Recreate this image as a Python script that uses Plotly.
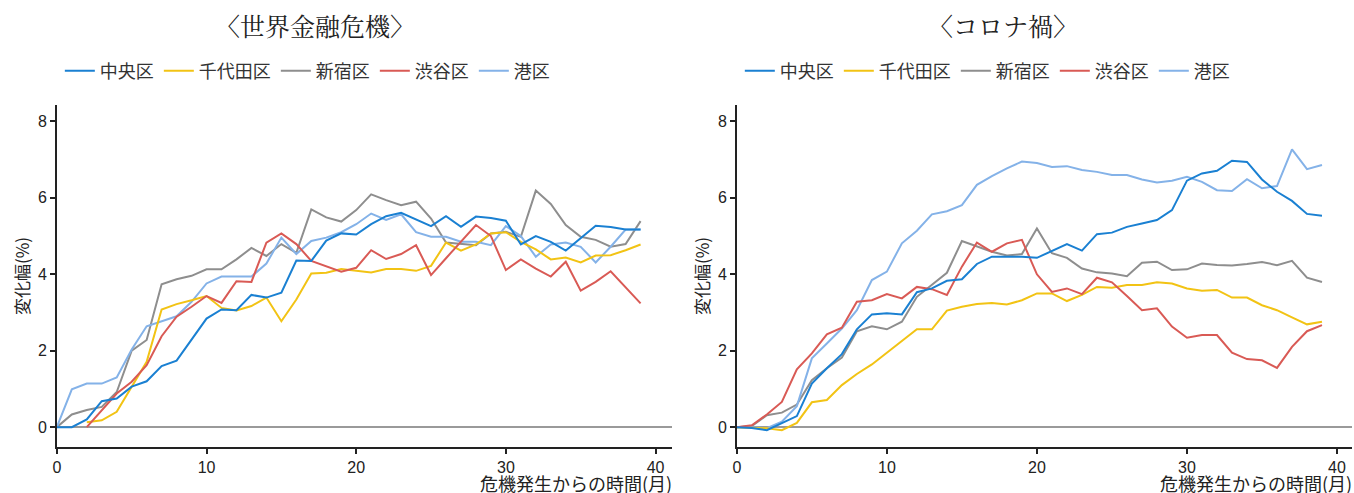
import plotly.graph_objects as go

months = list(range(40))
names = ["中央区", "千代田区", "新宿区", "渋谷区", "港区"]
colors = ["#1a80d2", "#f2c314", "#8e8e8e", "#d95a55", "#84b2e8"]

# 世界金融危機
gfc_chuo = [0, 0, 0.2, 0.68, 0.75, 1.06, 1.2, 1.6, 1.74, 2.28,
            2.84, 3.08, 3.06, 3.46, 3.39, 3.52, 4.36, 4.35, 4.88, 5.07,
            5.04, 5.31, 5.52, 5.61, 5.44, 5.26, 5.52, 5.24, 5.51, 5.47,
            5.4, 4.78, 5.0, 4.85, 4.62, 4.94, 5.27, 5.24, 5.17, 5.17]
gfc_chiyoda = [None, None, 0.13, 0.18, 0.40, 1.06, 1.71, 3.08, 3.22, 3.32,
               3.43, 3.12, 3.05, 3.17, 3.39, 2.77, 3.34, 4.02, 4.04, 4.14,
               4.09, 4.05, 4.14, 4.14, 4.09, 4.22, 4.83, 4.62, 4.78, 5.07,
               5.1, 4.85, 4.65, 4.39, 4.44, 4.31, 4.49, 4.5, 4.63, 4.78]
gfc_shinjuku = [0, 0.33, 0.45, 0.53, 0.92, 2.0, 2.28, 3.74, 3.87, 3.96,
                4.13, 4.13, 4.39, 4.69, 4.48, 4.79, 4.56, 5.7, 5.49, 5.38,
                5.68, 6.09, 5.94, 5.81, 5.9, 5.46, 4.83, 4.79, 4.76, 5.07,
                5.11, 4.98, 6.19, 5.84, 5.29, 4.98, 4.9, 4.72, 4.79, 5.39]
gfc_shibuya = [None, None, 0, 0.45, 0.88, 1.19, 1.62, 2.38, 2.89, 3.15,
               3.43, 3.25, 3.82, 3.8, 4.83, 5.07, 4.79, 4.35, 4.22, 4.07,
               4.17, 4.63, 4.4, 4.53, 4.76, 3.98, 4.42, 4.85, 5.29, 5.0,
               4.11, 4.39, 4.15, 3.94, 4.33, 3.57, 3.8, 4.08, 3.67, 3.24]
gfc_minato = [0, 0.99, 1.14, 1.14, 1.30, 2.03, 2.64, 2.76, 2.9, 3.28,
              3.76, 3.94, 3.94, 3.94, 4.28, 4.96, 4.53, 4.87, 4.96, 5.1,
              5.31, 5.59, 5.42, 5.57, 5.1, 4.98, 4.98, 4.85, 4.85, 4.76,
              5.26, 5.0, 4.46, 4.78, 4.83, 4.72, 4.31, 4.72, 5.17, 5.17]

# コロナ禍
cov_chuo = [0, -0.02, -0.08, 0.11, 0.29, 1.14, 1.54, 1.91, 2.56, 2.95,
            2.98, 2.95, 3.53, 3.63, 3.83, 3.87, 4.27, 4.46, 4.46, 4.46,
            4.43, 4.61, 4.79, 4.62, 5.05, 5.09, 5.24, 5.33, 5.42, 5.68,
            6.45, 6.64, 6.71, 6.97, 6.94, 6.48, 6.16, 5.92, 5.58, 5.53]
cov_chiyoda = [0, -0.02, -0.03, -0.08, 0.11, 0.65, 0.71, 1.1, 1.39, 1.64,
               1.95, 2.26, 2.56, 2.56, 3.05, 3.15, 3.22, 3.25, 3.21, 3.32,
               3.5, 3.5, 3.3, 3.46, 3.67, 3.65, 3.72, 3.72, 3.79, 3.76,
               3.63, 3.57, 3.59, 3.39, 3.39, 3.19, 3.06, 2.87, 2.69, 2.76]
cov_shinjuku = [0, 0.03, 0.31, 0.38, 0.59, 1.23, 1.54, 1.82, 2.51, 2.64,
                2.56, 2.76, 3.41, 3.72, 4.04, 4.87, 4.72, 4.59, 4.49, 4.53,
                5.2, 4.55, 4.43, 4.15, 4.05, 4.02, 3.95, 4.3, 4.33, 4.11,
                4.13, 4.28, 4.24, 4.23, 4.27, 4.32, 4.24, 4.35, 3.91, 3.8]
cov_shibuya = [0, 0.05, 0.33, 0.66, 1.51, 1.93, 2.43, 2.6, 3.28, 3.32,
               3.48, 3.37, 3.67, 3.61, 3.46, 4.2, 4.83, 4.59, 4.81, 4.9,
               4.0, 3.54, 3.63, 3.48, 3.91, 3.79, 3.43, 3.06, 3.11, 2.63,
               2.34, 2.41, 2.41, 1.95, 1.78, 1.75, 1.55, 2.1, 2.51, 2.67]
cov_minato = [0, 0, -0.03, 0.14, 0.55, 1.8, 2.19, 2.58, 3.06, 3.85,
              4.07, 4.81, 5.14, 5.57, 5.65, 5.81, 6.34, 6.57, 6.77, 6.95,
              6.91, 6.81, 6.83, 6.73, 6.68, 6.6, 6.6, 6.48, 6.4, 6.45,
              6.55, 6.42, 6.2, 6.18, 6.49, 6.25, 6.31, 7.27, 6.75, 6.86]

titles = ["〈世界金融危機〉", "〈コロナ禍〉"]
x_title = "危機発生からの時間(月)"
y_title = "変化幅(%)"
x_ticks = [0, 10, 20, 30, 40]
y_ticks = [0, 2, 4, 6, 8]

gfc = [gfc_chuo, gfc_chiyoda, gfc_shinjuku, gfc_shibuya, gfc_minato]
cov = [cov_chuo, cov_chiyoda, cov_shinjuku, cov_shibuya, cov_minato]

W, H = 1354, 493
FONT = "Liberation Sans, Noto Sans CJK JP, sans-serif"
JFONT = "Noto Sans CJK JP, sans-serif"
TFONT = "Noto Serif CJK JP, Noto Sans CJK JP, serif"

fig = go.Figure()
order = [2, 4, 1, 3, 0]
for i in order:
    fig.add_trace(go.Scatter(x=months, y=gfc[i], name=names[i], mode="lines",
                             line=dict(color=colors[i], width=2),
                             xaxis="x", yaxis="y", legend="legend",
                             legendrank=i))
    fig.add_trace(go.Scatter(x=months, y=cov[i], name=names[i], mode="lines",
                             line=dict(color=colors[i], width=2),
                             xaxis="x2", yaxis="y2", legend="legend2",
                             legendrank=i))

def px_x(p):
    return p / W

def px_y(p):
    return (H - p) / H

ydom = [px_y(447), px_y(105)]
axis_common = dict(showline=True, linecolor="#222", linewidth=1.5,
                   ticks="outside", ticklen=5, tickwidth=1.5, tickcolor="#222",
                   showgrid=False, tickfont=dict(family=FONT, size=16, color="#222"))

fig.update_layout(
    width=W, height=H,
    margin=dict(l=0, r=0, t=0, b=0),
    plot_bgcolor="white", paper_bgcolor="white",
    font=dict(family=JFONT, color="#222"),
    xaxis=dict(domain=[px_x(53), px_x(670)], range=[0, 41.1], tickvals=x_ticks,
               anchor="y", zeroline=False, **axis_common),
    yaxis=dict(domain=ydom, range=[-0.52, 8.43], tickvals=y_ticks, anchor="x",
               zeroline=True, zerolinecolor="#9a9a9a", zerolinewidth=1.5,
               title=dict(text=y_title, font=dict(family=JFONT, size=17), standoff=4),
               **axis_common),
    xaxis2=dict(domain=[px_x(735), px_x(1352)], range=[0, 41.0], tickvals=x_ticks,
                anchor="y2", zeroline=False, **axis_common),
    yaxis2=dict(domain=ydom, range=[-0.52, 8.43], tickvals=y_ticks, anchor="x2",
                zeroline=True, zerolinecolor="#9a9a9a", zerolinewidth=1.5,
                title=dict(text=y_title, font=dict(family=JFONT, size=17), standoff=4),
                **axis_common),
    legend=dict(orientation="h", x=px_x(56), y=px_y(71), xanchor="left", yanchor="middle",
                font=dict(family=JFONT, size=18, color="#333"), traceorder="normal",
                itemwidth=30, bgcolor="rgba(0,0,0,0)"),
    legend2=dict(orientation="h", x=px_x(738), y=px_y(71), xanchor="left", yanchor="middle",
                 font=dict(family=JFONT, size=18, color="#333"), traceorder="normal",
                 itemwidth=30, bgcolor="rgba(0,0,0,0)"),
)

annotations = []
for t, cx in zip(titles, [312, 1002]):
    annotations.append(dict(text=t, x=px_x(cx), y=px_y(25), xref="paper", yref="paper",
                            xanchor="center", yanchor="middle", showarrow=False,
                            font=dict(family=TFONT, size=25, color="#222")))
for rx in [671, 1353]:
    annotations.append(dict(text=x_title, x=px_x(rx), y=px_y(483), xref="paper", yref="paper",
                            xanchor="right", yanchor="middle", showarrow=False,
                            borderpad=0,
                            font=dict(family=JFONT, size=18, color="#222")))
fig.update_layout(annotations=annotations)

fig.write_html("out.html", config={"displayModeBar": False},
               post_script="document.body.style.margin='0';document.body.style.padding='0';document.body.style.overflow='hidden';")
